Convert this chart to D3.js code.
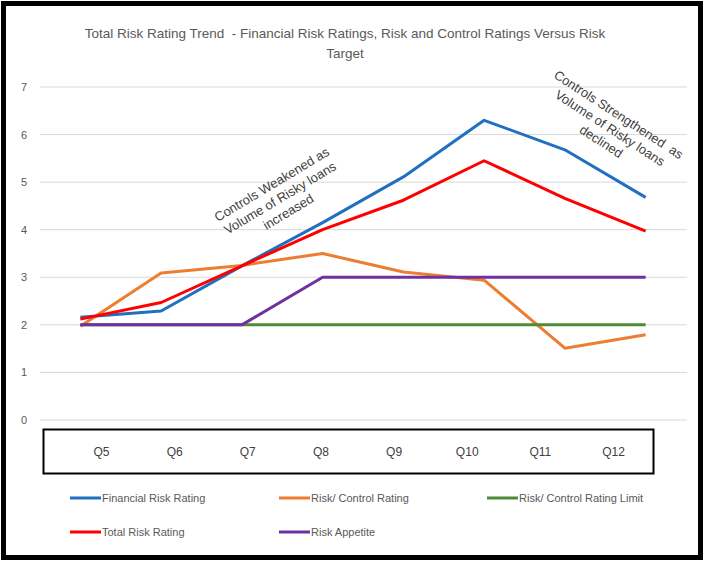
<!DOCTYPE html>
<html><head><meta charset="utf-8">
<script src="https://cdn.jsdelivr.net/npm/d3@7"></script>
<style>body{margin:0;background:#fff}svg{display:block}text{font-family:"Liberation Sans",Arial,sans-serif}</style>
</head><body><svg id="c" width="704" height="565"></svg>
<script>
const categories = ["Q5","Q6","Q7","Q8","Q9","Q10","Q11","Q12"];
const financialRisk = [2.16,2.29,3.24,4.15,5.11,6.3,5.68,4.68];
const riskControl   = [1.97,3.09,3.25,3.5,3.11,2.94,1.51,1.79];
const controlLimit  = [2,2,2,2,2,2,2,2];
const totalRisk     = [2.12,2.47,3.24,4.0,4.62,5.45,4.66,3.97];
const riskAppetite  = [2,2,2,3,3,3,3,3];
const yTicks = [0,1,2,3,4,5,6,7];
const seriesNames = ["Financial Risk Rating","Risk/ Control Rating","Risk/ Control Rating Limit","Total Risk Rating","Risk Appetite"];
const seriesColors = ["#1f70c1","#ed7d31","#4f8a36","#ff0000","#7030a0"];
const seriesData = [financialRisk, riskControl, controlLimit, totalRisk, riskAppetite];
const titleLines = ["Total Risk Rating Trend  - Financial Risk Ratings, Risk and Control Ratings Versus Risk","Target"];
const note1 = ["Controls Weakened as","Volume of Risky loans","increased"];
const note2 = ["Controls Strengthened  as","Volume of Risky loans","declined"];

const svg = d3.select("#c");
svg.append("rect").attr("width",704).attr("height",565).attr("fill","#fff");
svg.append("rect").attr("x",3.5).attr("y",3.5).attr("width",697).attr("height",554)
  .attr("fill","none").attr("stroke","#000").attr("stroke-width",5);

const x = d3.scaleBand().domain(categories).range([40,686]);
const y = d3.scaleLinear().domain([0,7]).range([420,87]);

// title
svg.append("g").selectAll("text").data(titleLines).join("text")
  .attr("x",345).attr("y",(d,i)=>38+i*20).attr("text-anchor","middle")
  .style("white-space","pre")
  .attr("font-size",13.5).attr("fill","#595959").text(d=>d);

// grid
svg.append("g").selectAll("line").data(yTicks).join("line")
  .attr("x1",40).attr("x2",687).attr("y1",d=>y(d)).attr("y2",d=>y(d))
  .attr("stroke","#d9d9d9").attr("stroke-width",1);
const yAxis = d3.axisLeft(y).tickValues(yTicks).tickFormat(d3.format("d")).tickSize(0).tickPadding(0);
const ya = svg.append("g").attr("transform","translate(24,0)").call(yAxis);
ya.select(".domain").remove();
ya.selectAll("text").attr("font-size",11).attr("fill","#595959").attr("text-anchor","middle").attr("font-family","Liberation Sans, Arial, sans-serif");

// lines
const line = d3.line().x((d,i)=>x(categories[i])+x.bandwidth()/2).y(d=>y(d));
svg.append("g").selectAll("path").data(seriesData).join("path")
  .attr("d",d=>line(d)).attr("fill","none")
  .attr("stroke",(d,i)=>seriesColors[i]).attr("stroke-width",3)
  .attr("stroke-linejoin","round");

// category box
svg.append("rect").attr("x",43.5).attr("y",429.5).attr("width",610).attr("height",44)
  .attr("fill","#fff").attr("stroke","#000").attr("stroke-width",2);
const xl = d3.scalePoint().domain(categories).range([101,613]);
const xa = svg.append("g").attr("transform","translate(0,452)").call(d3.axisBottom(xl).tickSize(0).tickPadding(0));
xa.select(".domain").remove();
xa.selectAll("text").attr("font-size",12).attr("fill","#404040").attr("dy","0.35em").attr("font-family","Liberation Sans, Arial, sans-serif");

// annotations
function note(lines, cx, cy, ang){
  const g = svg.append("g").attr("transform",`translate(${cx},${cy}) rotate(${ang})`);
  g.selectAll("text").data(lines).join("text")
    .attr("x",0).attr("y",(d,i)=>(i-1)*16).attr("dy","0.35em")
    .style("white-space","pre")
    .attr("text-anchor","middle").attr("font-size",13).attr("fill","#404040").text(d=>d);
}
note(note1, 280, 198, -31);
note(note2, 610, 128, 33);

// legend
const legPos = [[70,498],[279,498],[487,498],[70,532],[279,532]];
const lg = svg.append("g").selectAll("g").data(seriesNames).join("g")
  .attr("transform",(d,i)=>`translate(${legPos[i][0]},${legPos[i][1]})`);
lg.append("line").attr("x1",0).attr("x2",31).attr("stroke",(d,i)=>seriesColors[i]).attr("stroke-width",3);
lg.append("text").attr("x",32).attr("dy","0.35em").attr("font-size",11).attr("fill","#595959").text(d=>d);
</script></body></html>
